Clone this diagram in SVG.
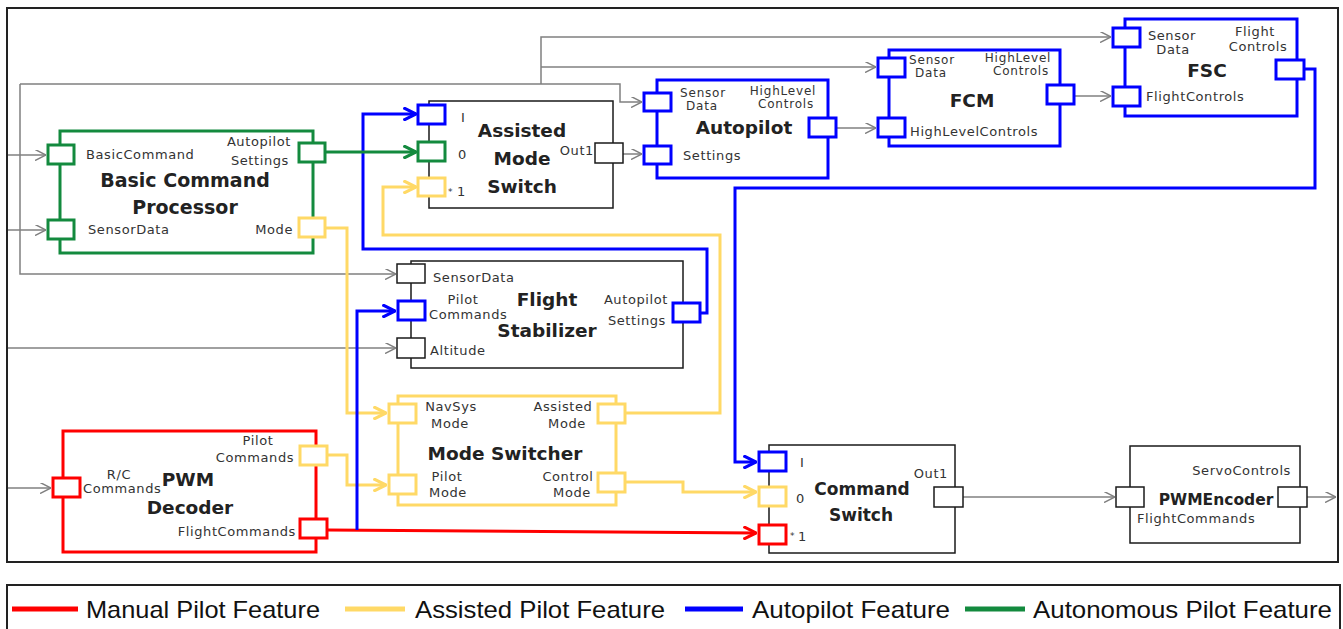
<svg xmlns="http://www.w3.org/2000/svg" width="1343" height="629" viewBox="0 0 1343 629">
<style>
.bg{fill:#fff}
.frame{fill:none;stroke:#222;stroke-width:2}
.blk{fill:#fff}
.k{stroke:#1a1a1a;stroke-width:1.5}
.gr{stroke:#138a3e;stroke-width:3}
.bl{stroke:#0000ff;stroke-width:3}
.rd{stroke:#ff0000;stroke-width:3}
.yl{stroke:#ffd966;stroke-width:3}
.c{fill:none;stroke:#808080;stroke-width:1.5}
.cg{fill:none;stroke:#138a3e;stroke-width:3}
.cb{fill:none;stroke:#0000ff;stroke-width:3}
.cr{fill:none;stroke:#ff0000;stroke-width:3}
.cy{fill:none;stroke:#ffd966;stroke-width:3}
.t{font-family:"DejaVu Sans",sans-serif;font-size:13px;letter-spacing:0.6px;fill:#333}
.s{font-size:12px;letter-spacing:0.8px}
.m{text-anchor:middle}
.e{text-anchor:end}
.ttl{font-family:"DejaVu Sans",sans-serif;font-weight:bold;font-size:18.5px;fill:#222;text-anchor:middle}
.lg{font-family:"Liberation Sans",Arial,sans-serif;font-size:24px;fill:#111}
</style>
<defs>
<marker id="ag" viewBox="0 0 10 10" refX="10" refY="5" markerWidth="11" markerHeight="11" markerUnits="userSpaceOnUse" orient="auto"><path d="M0,0 L10,5 L0,10" fill="none" stroke="#808080" stroke-width="1.4"/></marker>
<marker id="aG" viewBox="0 0 10 10" refX="9" refY="5" markerWidth="14" markerHeight="14" markerUnits="userSpaceOnUse" orient="auto"><path d="M0,0.5 L9,5 L0,9.5" fill="none" stroke="#138a3e" stroke-width="2.2"/></marker>
<marker id="aB" viewBox="0 0 10 10" refX="9" refY="5" markerWidth="14" markerHeight="14" markerUnits="userSpaceOnUse" orient="auto"><path d="M0,0.5 L9,5 L0,9.5" fill="none" stroke="#0000ff" stroke-width="2.2"/></marker>
<marker id="aR" viewBox="0 0 10 10" refX="9" refY="5" markerWidth="14" markerHeight="14" markerUnits="userSpaceOnUse" orient="auto"><path d="M0,0.5 L9,5 L0,9.5" fill="none" stroke="#ff0000" stroke-width="2.2"/></marker>
<marker id="aY" viewBox="0 0 10 10" refX="9" refY="5" markerWidth="14" markerHeight="14" markerUnits="userSpaceOnUse" orient="auto"><path d="M0,0.5 L9,5 L0,9.5" fill="none" stroke="#ffd966" stroke-width="2.2"/></marker>
</defs>
<rect class="bg" x="0" y="0" width="1343" height="629"/>
<rect class="frame" x="7" y="8" width="1331" height="554"/>

<g id="connectors">
<g marker-end="url(#ag)">
<path class="c" d="M8,155 H46"/>
<path class="c" d="M8,230 H46"/>
<path class="c" d="M8,348 H396"/>
<path class="c" d="M8,488 H51"/>
<path class="c" d="M20,84 V274 H396"/>
<path class="c" d="M20,84 H620 V102 H642"/>
<path class="c" d="M541,84 V37 H1111"/>
<path class="c" d="M541,67 H876"/>
<path class="c" d="M623,154 H642"/>
<path class="c" d="M837,128 H876"/>
<path class="c" d="M1075,96 H1111"/>
<path class="c" d="M963,497 H1115"/>
<path class="c" d="M1307,497 H1336"/>
</g>
<g marker-end="url(#aY)">
<path class="cy" d="M326,228 H347 V413 H386"/>
<path class="cy" d="M328,455 H347 V485 H386"/>
<path class="cy" d="M626,413 H720 V235 H383 V187 H416"/>
<path class="cy" d="M626,482 H683 V492 H756"/>
</g>
<path class="cr" d="M328,530 L756,533" marker-end="url(#aR)"/>
<g marker-end="url(#aB)">
<path class="cb" d="M357,530 V311 H395"/>
<path class="cb" d="M700,313 H707 V249 H363 V114 H416"/>
<path class="cb" d="M1305,69 H1315 V188 H735 V462 H756"/>
</g>
<path class="cg" d="M326,152 H416" marker-end="url(#aG)"/>
</g>

<g id="basic-command-processor">
<rect class="blk gr" x="60" y="131" width="253" height="122"/>
<rect class="blk gr" x="48" y="145" width="26" height="19"/>
<rect class="blk gr" x="48" y="220" width="26" height="19"/>
<rect class="blk gr" x="299" y="143" width="26" height="19"/>
<rect class="blk yl" x="299" y="218" width="26" height="19"/>
<text class="t" x="86" y="159">BasicCommand</text>
<text class="t" x="88" y="234">SensorData</text>
<text class="t e" x="291" y="146">Autopilot</text>
<text class="t e" x="289" y="165">Settings</text>
<text class="t e" x="293" y="234">Mode</text>
<text class="ttl" x="185" y="187" style="font-size:19px">Basic Command</text>
<text class="ttl" x="185" y="214" style="font-size:19px">Processor</text>
</g>

<g id="assisted-mode-switch">
<rect class="blk k" x="429" y="101" width="184" height="107"/>
<rect class="blk bl" x="418" y="105" width="27" height="19"/>
<rect class="blk gr" x="418" y="142" width="27" height="19"/>
<rect class="blk yl" x="418" y="178" width="27" height="18"/>
<rect class="blk k" x="595" y="143" width="28" height="20"/>
<text class="t" x="461" y="122">I</text>
<text class="t" x="458" y="159">0</text>
<text class="t" x="448" y="195" style="font-size:9px">*</text>
<text class="t" x="457" y="196">1</text>
<text class="ttl" x="522" y="137">Assisted</text>
<text class="ttl" x="522" y="165">Mode</text>
<text class="ttl" x="522" y="193">Switch</text>
<text class="t e" x="594" y="155">Out1</text>
</g>

<g id="autopilot">
<rect class="blk bl" x="657" y="80" width="171" height="98"/>
<rect class="blk bl" x="644" y="93" width="27" height="18"/>
<rect class="blk bl" x="644" y="146" width="27" height="18"/>
<rect class="blk bl" x="809" y="118" width="27" height="19"/>
<text class="t s m" x="703" y="97">Sensor</text>
<text class="t s m" x="702" y="110">Data</text>
<text class="t s m" x="783" y="95">HighLevel</text>
<text class="t s m" x="786" y="108">Controls</text>
<text class="ttl" x="744" y="134">Autopilot</text>
<text class="t" x="683" y="160">Settings</text>
</g>

<g id="fcm">
<rect class="blk bl" x="889" y="50" width="171" height="96"/>
<rect class="blk bl" x="878" y="58" width="27" height="19"/>
<rect class="blk bl" x="878" y="118" width="27" height="19"/>
<rect class="blk bl" x="1047" y="85" width="27" height="19"/>
<text class="t s m" x="932" y="64">Sensor</text>
<text class="t s m" x="931" y="77">Data</text>
<text class="t s m" x="1018" y="62">HighLevel</text>
<text class="t s m" x="1021" y="75">Controls</text>
<text class="ttl" x="972" y="107">FCM</text>
<text class="t" x="910" y="136">HighLevelControls</text>
</g>

<g id="fsc">
<rect class="blk bl" x="1125" y="19" width="172" height="97"/>
<rect class="blk bl" x="1113" y="28" width="27" height="19"/>
<rect class="blk bl" x="1113" y="87" width="27" height="19"/>
<rect class="blk bl" x="1276" y="60" width="28" height="19"/>
<text class="t m" x="1172" y="40">Sensor</text>
<text class="t m" x="1173" y="54">Data</text>
<text class="t m" x="1255" y="36">Flight</text>
<text class="t m" x="1258" y="51">Controls</text>
<text class="ttl" x="1207" y="77">FSC</text>
<text class="t" x="1146" y="101">FlightControls</text>
</g>

<g id="flight-stabilizer">
<rect class="blk k" x="411" y="261" width="272" height="107"/>
<rect class="blk k" x="397" y="264" width="28" height="19"/>
<rect class="blk bl" x="398" y="301" width="27" height="19"/>
<rect class="blk k" x="397" y="338" width="28" height="20"/>
<rect class="blk bl" x="673" y="303" width="27" height="19"/>
<text class="t" x="433" y="282">SensorData</text>
<text class="t m" x="463" y="304">Pilot</text>
<text class="t" x="429" y="319">Commands</text>
<text class="ttl" x="547" y="306">Flight</text>
<text class="ttl" x="547" y="337">Stabilizer</text>
<text class="t e" x="668" y="304">Autopilot</text>
<text class="t e" x="666" y="325">Settings</text>
<text class="t" x="430" y="355">Altitude</text>
</g>

<g id="mode-switcher">
<rect class="blk yl" x="398" y="396" width="218" height="109"/>
<rect class="blk yl" x="389" y="404" width="27" height="19"/>
<rect class="blk yl" x="389" y="475" width="27" height="19"/>
<rect class="blk yl" x="598" y="404" width="27" height="19"/>
<rect class="blk yl" x="598" y="473" width="27" height="19"/>
<text class="t m" x="451" y="411">NavSys</text>
<text class="t m" x="450" y="428">Mode</text>
<text class="t m" x="563" y="411">Assisted</text>
<text class="t m" x="567" y="428">Mode</text>
<text class="ttl" x="505" y="460">Mode Switcher</text>
<text class="t m" x="447" y="481">Pilot</text>
<text class="t m" x="448" y="497">Mode</text>
<text class="t m" x="568" y="481">Control</text>
<text class="t m" x="572" y="497">Mode</text>
</g>

<g id="pwm-decoder">
<rect class="blk rd" x="63" y="431" width="253" height="121"/>
<rect class="blk rd" x="53" y="478" width="27" height="19"/>
<rect class="blk yl" x="300" y="446" width="27" height="19"/>
<rect class="blk rd" x="300" y="519" width="27" height="19"/>
<text class="t m" x="258" y="445">Pilot</text>
<text class="t m" x="255" y="462">Commands</text>
<text class="t m" x="119" y="479">R/C</text>
<text class="t" x="83" y="493">Commands</text>
<text class="ttl" x="188" y="486">PWM</text>
<text class="ttl" x="190" y="514">Decoder</text>
<text class="t e" x="296" y="536">FlightCommands</text>
</g>

<g id="command-switch">
<rect class="blk k" x="769" y="445" width="186" height="108"/>
<rect class="blk bl" x="759" y="452" width="27" height="19"/>
<rect class="blk yl" x="759" y="487" width="27" height="19"/>
<rect class="blk rd" x="759" y="525" width="27" height="19"/>
<rect class="blk k" x="934" y="487" width="29" height="20"/>
<text class="t" x="800" y="467">I</text>
<text class="t" x="796" y="503">0</text>
<text class="t" x="790" y="539" style="font-size:9px">*</text>
<text class="t" x="798" y="541">1</text>
<text class="ttl" x="862" y="495" style="font-size:17px">Command</text>
<text class="ttl" x="861" y="521" style="font-size:17px">Switch</text>
<text class="t e" x="948" y="478">Out1</text>
</g>

<g id="pwm-encoder">
<rect class="blk k" x="1130" y="446" width="170" height="97"/>
<rect class="blk k" x="1116" y="487" width="28" height="20"/>
<rect class="blk k" x="1278" y="487" width="29" height="20"/>
<text class="t e" x="1291" y="475">ServoControls</text>
<text class="ttl" x="1216" y="505" style="font-size:15.5px">PWMEncoder</text>
<text class="t" x="1137" y="523">FlightCommands</text>
</g>

<g id="legend">
<rect class="frame" x="7" y="585" width="1333" height="60"/>
<line x1="12" y1="609" x2="78" y2="609" stroke="#ff0000" stroke-width="5"/>
<text class="lg" x="86" y="618" textLength="234" lengthAdjust="spacingAndGlyphs">Manual Pilot Feature</text>
<line x1="345" y1="609" x2="405" y2="609" stroke="#ffd966" stroke-width="5"/>
<text class="lg" x="415" y="618" textLength="250" lengthAdjust="spacingAndGlyphs">Assisted Pilot Feature</text>
<line x1="685" y1="609" x2="743" y2="609" stroke="#0000ff" stroke-width="5"/>
<text class="lg" x="752" y="618" textLength="198" lengthAdjust="spacingAndGlyphs">Autopilot Feature</text>
<line x1="965" y1="609" x2="1025" y2="609" stroke="#138a3e" stroke-width="5"/>
<text class="lg" x="1033" y="618" textLength="299" lengthAdjust="spacingAndGlyphs">Autonomous Pilot Feature</text>
</g>
</svg>
